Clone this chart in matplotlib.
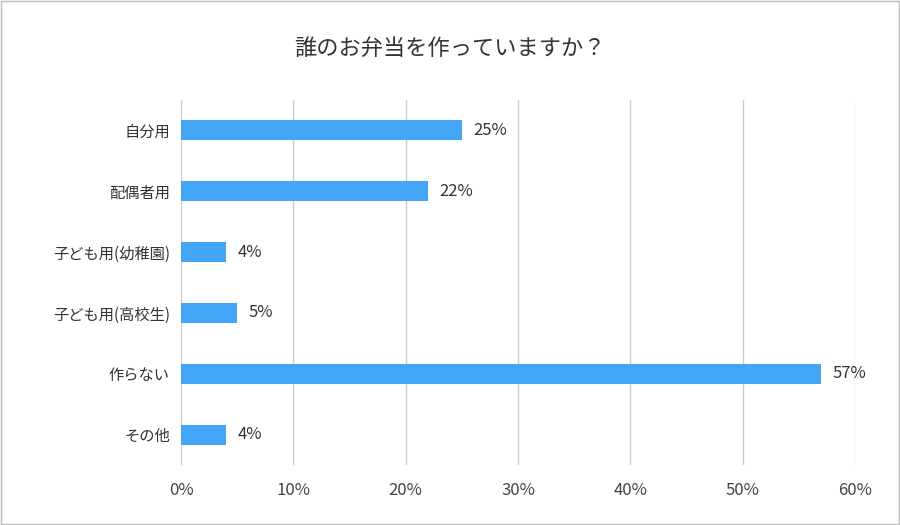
import matplotlib
matplotlib.use("Agg")
import matplotlib.pyplot as plt

categories = ["自分用", "配偶者用", "子ども用(幼稚園)", "子ども用(高校生)", "作らない", "その他"]
values = [25, 22, 4, 5, 57, 4]
xticks = [0, 10, 20, 30, 40, 50, 60]

plt.rcParams["font.family"] = "Noto Sans CJK JP"
fig = plt.figure(figsize=(9, 5.25), dpi=100)
ax = fig.add_axes([181/900, 1-465/525, (855-181)/900, (465-100)/525])
y = list(range(len(categories)))
ax.barh(y, values, height=0.33, color="#42a5f5", zorder=3)
for yi, v in zip(y, values):
    ax.text(v + 1, yi, f"{v}%", va="center", ha="left", fontsize=12, color="#333333")
ax.set_yticks(y)
ax.set_yticklabels(categories, fontsize=11, color="#333333")
ax.set_ylim(len(categories) - 0.5, -0.5)
ax.set_xlim(0, 60)
ax.set_xticks(xticks)
ax.set_xticklabels([f"{t}%" for t in xticks], fontsize=12, color="#444444")
ax.grid(axis="x", color="#cccccc", linewidth=1, zorder=0)
for s in ax.spines.values():
    s.set_visible(False)
ax.tick_params(length=0, pad=8)
ax.tick_params(axis="x", pad=12)
fig.text(0.5, 1-48/525, "誰のお弁当を作っていますか？", ha="center", va="center", fontsize=16, color="#333333")
fig.patches.append(plt.Rectangle((0.001, 0.001), 0.998, 0.998, transform=fig.transFigure, fill=False, edgecolor="#bbbbbb", linewidth=1))
fig.savefig("out.png", dpi=100)
